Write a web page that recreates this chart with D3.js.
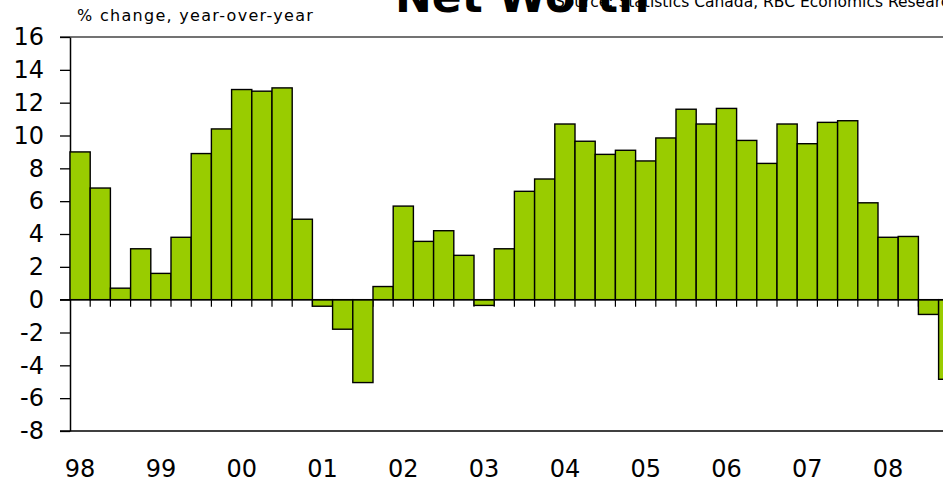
<!DOCTYPE html>
<html>
<head>
<meta charset="utf-8">
<script src="https://cdn.jsdelivr.net/npm/d3@7"></script>
<style>
  body { margin: 0; background: #fff; }
  svg { display: block; }
  text { font-family: "DejaVu Sans", Verdana, sans-serif; fill: #000; }
</style>
</head>
<body>
<svg width="943" height="487"></svg>
<script>
// quarterly data, 1998Q1 - 2008Q4
var years = ["98", "99", "00", "01", "02", "03", "04", "05", "06", "07", "08"];
var quarters = ["Q1", "Q2", "Q3", "Q4"];
var values = [
  9.0, 6.8, 0.7, 3.1,
  1.6, 3.8, 8.9, 10.4,
  12.8, 12.7, 12.9, 4.9,
  -0.4, -1.8, -5.05, 0.8,
  5.7, 3.55, 4.2, 2.7,
  -0.35, 3.1, 6.6, 7.35,
  10.7, 9.65, 8.85, 9.1,
  8.45, 9.85, 11.6, 10.7,
  11.65, 9.7, 8.3, 10.7,
  9.5, 10.8, 10.9, 5.9,
  3.8, 3.85, -0.9, -4.85
];
var yTicks = [-8, -6, -4, -2, 0, 2, 4, 6, 8, 10, 12, 14, 16];

var keys = [];
years.forEach(function(yr) {
  quarters.forEach(function(q) { keys.push(yr + q); });
});
var data = keys.map(function(k, i) { return {key: k, value: values[i]}; });

var svg = d3.select("svg");
var plotLeft = 70, plotTop = 37, plotBottom = 431, step = 20.2;

var x = d3.scaleBand()
    .domain(keys)
    .range([plotLeft, plotLeft + keys.length * step])
    .padding(0);

var y = d3.scaleLinear()
    .domain([-8, 16])
    .range([plotBottom, plotTop]);

// top and bottom frame lines
svg.append("line")
    .attr("x1", 60).attr("x2", 943)
    .attr("y1", y(16)).attr("y2", y(16))
    .attr("stroke", "#444").attr("stroke-width", 1.5);
svg.append("line")
    .attr("x1", 60).attr("x2", 943)
    .attr("y1", y(-8)).attr("y2", y(-8))
    .attr("stroke", "#000").attr("stroke-width", 1.5);

// y axis (plain hyphen for negatives, like the original)
var yAxis = svg.append("g")
    .attr("transform", "translate(" + plotLeft + ",0)")
    .call(d3.axisLeft(y).tickValues(yTicks).tickSize(10).tickSizeOuter(0).tickPadding(16)
      .tickFormat(function(d) { return String(d); }));
yAxis.select(".domain").attr("stroke", "#000").attr("stroke-width", 1.5);
yAxis.selectAll(".tick line").attr("stroke", "#000").attr("stroke-width", 1.3);
yAxis.selectAll(".tick text")
    .attr("font-size", 24)
    .attr("font-family", "DejaVu Sans, Verdana, sans-serif")
    .attr("fill", "#000");

// small ticks under the zero line between quarters
svg.append("g").selectAll("line")
    .data(keys.slice(1))
    .enter().append("line")
      .attr("x1", function(d) { return x(d); })
      .attr("x2", function(d) { return x(d); })
      .attr("y1", y(0))
      .attr("y2", y(0) + 7)
      .attr("stroke", "#000")
      .attr("stroke-width", 1.2);

// bars
svg.append("g").selectAll(".bar")
    .data(data)
    .enter().append("rect")
      .attr("class", "bar")
      .attr("x", function(d) { return x(d.key); })
      .attr("y", function(d) { return y(Math.max(0, d.value)); })
      .attr("width", x.bandwidth())
      .attr("height", function(d) { return Math.abs(y(d.value) - y(0)); })
      .attr("fill", "#99cc00")
      .attr("stroke", "#000")
      .attr("stroke-width", 1.4);

// zero line
svg.append("line")
    .attr("x1", 60).attr("x2", 943)
    .attr("y1", y(0)).attr("y2", y(0))
    .attr("stroke", "#000").attr("stroke-width", 1.5);

// year labels under first quarter of each year
var xAxis = svg.append("g")
    .attr("transform", "translate(0,477)")
    .call(d3.axisBottom(x)
      .tickValues(keys.filter(function(k) { return k.slice(2) === "Q1"; }))
      .tickFormat(function(k) { return k.slice(0, 2); })
      .tickSize(0));
xAxis.select(".domain").remove();
xAxis.selectAll(".tick text")
    .attr("y", 0).attr("dy", 0)
    .attr("font-size", 24)
    .attr("font-family", "DejaVu Sans, Verdana, sans-serif")
    .attr("fill", "#000");

// titles
svg.append("text")
    .attr("x", 77).attr("y", 21)
    .attr("font-size", 16)
    .attr("letter-spacing", 1.3)
    .text("% change, year-over-year");

svg.append("text")
    .attr("x", 395).attr("y", 12)
    .attr("font-family", "Liberation Sans, Arial, sans-serif")
    .attr("font-weight", "bold")
    .attr("font-size", 44)
    .text("Net Worth");

svg.append("text")
    .attr("x", 555).attr("y", 7)
    .attr("font-family", "Liberation Sans, Arial, sans-serif")
    .attr("font-size", 15.5)
    .text("Source: Statistics Canada, RBC Economics Research");
</script>
</body>
</html>
